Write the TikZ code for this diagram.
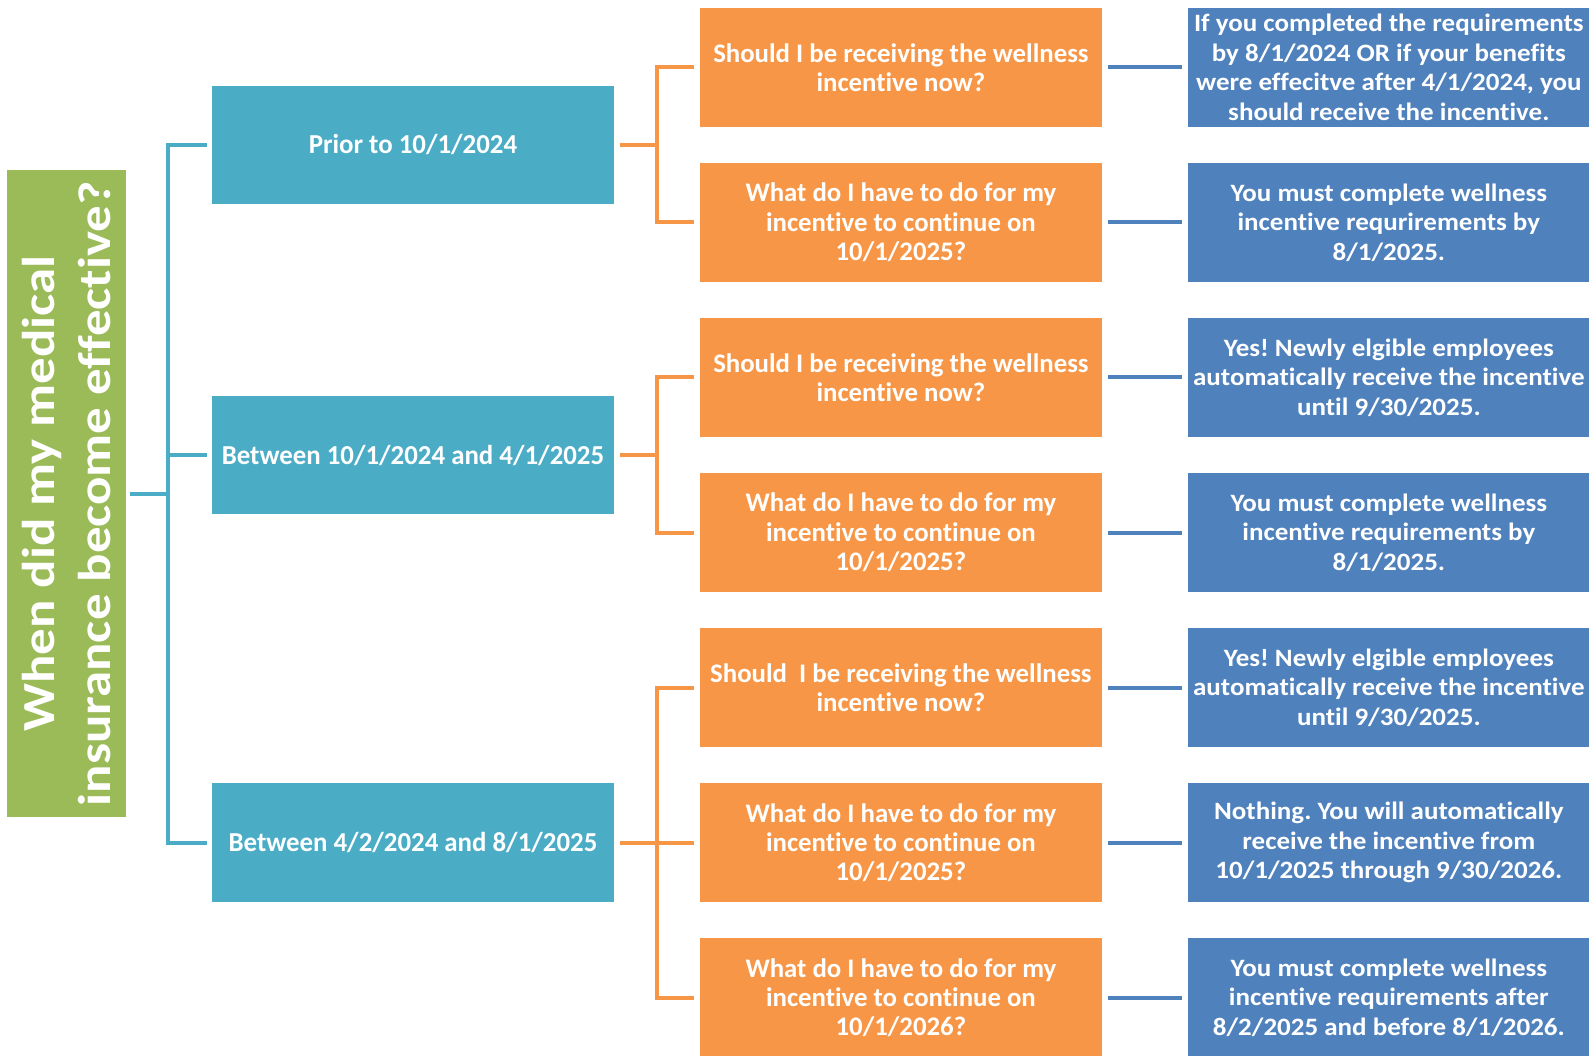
\documentclass[tikz,border=0pt]{standalone}
\usepackage{fontspec}
\setmainfont{Carlito}
\newfontfamily\qfont[FakeStretch=1.0, Ligatures=NoCommon]{Carlito}
\newfontfamily\dfont[FakeStretch=0.98, Ligatures=NoCommon]{Carlito}
\newfontfamily\afont[FakeStretch=1.08, Ligatures=NoCommon]{Carlito}
\newfontfamily\tfont[FakeStretch=1.15, Ligatures=NoCommon]{Carlito}
\usepackage{tikz}
\usetikzlibrary{positioning}
\definecolor{wgreen}{HTML}{9BBB59}
\definecolor{wteal}{HTML}{4BACC6}
\definecolor{worange}{HTML}{F79646}
\definecolor{wblue}{HTML}{4F81BD}
\tikzstyle{datebox}=[fill=wteal, text=white, font=\dfont\bfseries\fontsize{13.7}{14.7}\selectfont, minimum width=201.2pt, minimum height=59.3pt, inner sep=0pt, align=center]
\tikzstyle{askbox}=[fill=worange, text=white, font=\qfont\bfseries\fontsize{13.4}{14.7}\selectfont, minimum width=201.2pt, minimum height=59.3pt, inner sep=0pt, align=center]
\tikzstyle{ansbox}=[fill=wblue, text=white, font=\afont\bfseries\fontsize{12.5}{14.7}\selectfont, minimum width=201.2pt, minimum height=59.3pt, inner sep=0pt, align=center]
\tikzstyle{tealline}=[wteal, line width=2pt]
\tikzstyle{orangeline}=[worange, line width=2pt]
\tikzstyle{blueline}=[wblue, line width=2pt]
% one question row: orange box, blue answer, joining line
\newcommand{\askrow}[4]{
	\node[askbox] (#1) at (889,#2) {#3};
	\node[ansbox] (#1a) at (1370.5,#2) {#4};
	\draw[blueline] ([xshift=2.5pt]#1.east) -- ([xshift=-2.5pt]#1a.west);
}

\begin{document}
\frenchspacing
\begin{tikzpicture}[x=0.5067pt, y=-0.5067pt]
	\useasboundingbox (0,0) rectangle (1568,1042);
	\node[fill=wgreen, minimum width=59.3pt, minimum height=323.3pt, inner sep=0pt] (title) at (65.5,487) {};
	\node[rotate=90, text=white, align=center, font=\tfont\bfseries\fontsize{23}{27.9}\selectfont] at (title.center) {When did my medical\\insurance become effective?};

	\node[datebox] (prior) at (407.5,143) {Prior to 10/1/2024};
	\node[datebox] (between) at (407.5,449) {Between 10/1/2024 and 4/1/2025};
	\node[datebox] (late) at (407.5,831.5) {Between 4/2/2024 and 8/1/2025};

	\askrow{q1}{66.5}{Should I be receiving the wellness\\incentive now?}{If you completed the requirements\\by 8/1/2024 OR if your benefits\\were effecitve after 4/1/2024, you\\should receive the incentive.}
	\askrow{q2}{219.5}{What do I have to do for my\\incentive to continue on\\10/1/2025?}{You must complete wellness\\incentive requrirements by\\8/1/2025.}
	\askrow{q3}{372.5}{Should I be receiving the wellness\\incentive now?}{Yes! Newly elgible employees\\automatically receive the incentive\\until 9/30/2025.}
	\askrow{q4}{525.5}{What do I have to do for my\\incentive to continue on\\10/1/2025?}{You must complete wellness\\incentive requirements by\\8/1/2025.}
	\askrow{q5}{678.5}{Should\ \ I be receiving the wellness\\incentive now?}{Yes! Newly elgible employees\\automatically receive the incentive\\until 9/30/2025.}
	\askrow{q6}{831.5}{What do I have to do for my\\incentive to continue on\\10/1/2025?}{Nothing. You will automatically\\receive the incentive from\\10/1/2025 through 9/30/2026.}
	\askrow{q7}{984.5}{What do I have to do for my\\incentive to continue on\\10/1/2026?}{You must complete wellness\\incentive requirements after\\8/2/2025 and before 8/1/2026.}

	% teal tree
	\coordinate (tj) at (166,487);
	\draw[tealline] ([xshift=2pt]title.east) -- (tj);
	\draw[tealline] (prior.west) ++(-2pt,0) -| (166,831.5) -- ([xshift=-2pt]late.west);
	\draw[tealline] (166,449) -- ([xshift=-2pt]between.west);

	% orange trees
	\draw[orangeline] ([xshift=2.5pt]prior.east) -- (648,143);
	\draw[orangeline] ([xshift=-2.5pt]q1.west) -| (648,219.5) -- ([xshift=-2.5pt]q2.west);
	\draw[orangeline] ([xshift=2.5pt]between.east) -- (648,449);
	\draw[orangeline] ([xshift=-2.5pt]q3.west) -| (648,525.5) -- ([xshift=-2.5pt]q4.west);
	\draw[orangeline] ([xshift=2.5pt]late.east) -- ([xshift=-2.5pt]q6.west);
	\draw[orangeline] ([xshift=-2.5pt]q5.west) -| (648,984.5) -- ([xshift=-2.5pt]q7.west);
\end{tikzpicture}
\end{document}
